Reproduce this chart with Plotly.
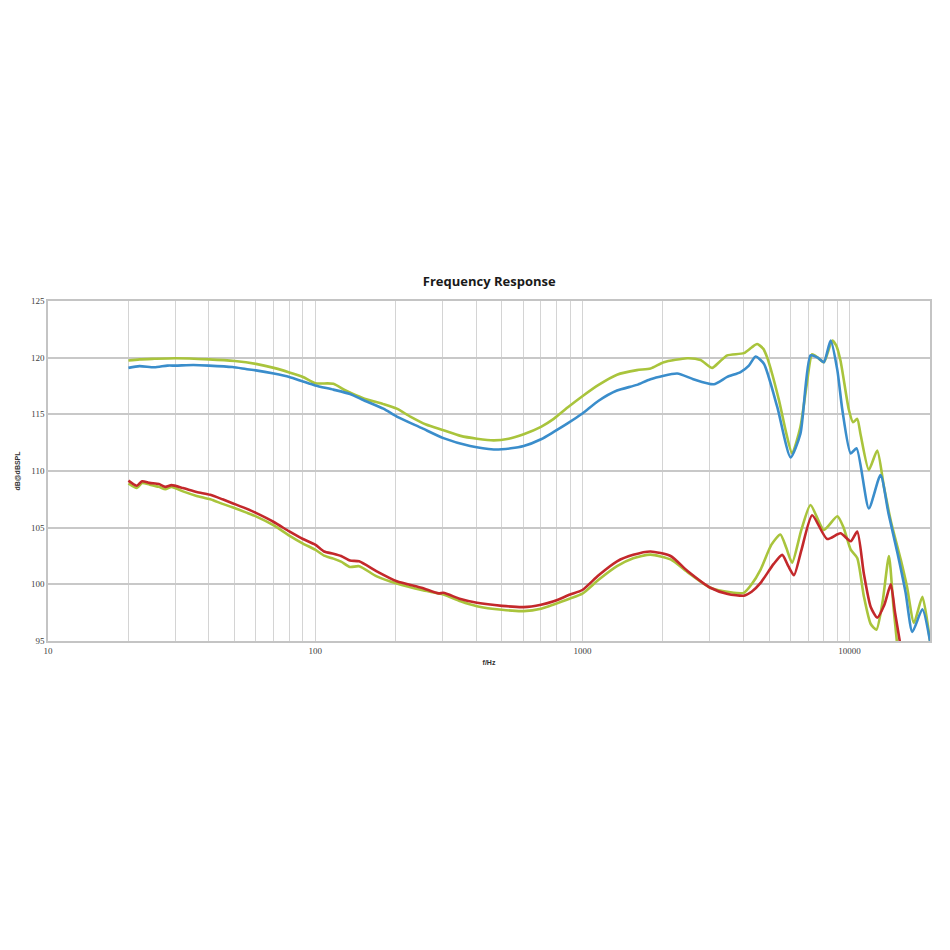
import plotly.graph_objects as go

# ---------------- data ----------------
top_green_f = [20, 22, 25, 30, 40, 50, 60, 70, 80, 90, 100, 117, 130, 152, 180, 202, 227, 260, 302, 350,
               403, 466, 530, 603, 700, 781, 880, 1000, 1150, 1348, 1600, 1800, 2018, 2468, 2767, 3061,
               3250, 3485, 4021, 4300, 4509, 4750, 4918, 5435, 5800, 6095, 6548, 6900, 7244, 7600, 8010,
               8300, 8606, 8900, 9245, 9939, 10300, 10683, 11000, 11806, 12692, 13447, 14300, 15536,
               16400, 17421, 18724, 20000]
top_green_v = [119.75, 119.85, 119.9, 119.95, 119.85, 119.7, 119.45, 119.1, 118.7, 118.3, 117.75, 117.7,
               117.1, 116.4, 115.9, 115.5, 114.8, 114.1, 113.6, 113.1, 112.85, 112.7, 112.85, 113.25,
               113.9, 114.6, 115.6, 116.6, 117.6, 118.5, 118.9, 119.05, 119.6, 119.95, 119.8, 119.1,
               119.6, 120.2, 120.4, 120.9, 121.2, 120.8, 120.0, 116.3, 113.3, 111.55, 113.9, 117.5,
               120.3, 120.0, 119.6, 120.5, 121.5, 121.1, 119.75, 115.4, 114.3, 114.6, 113.2, 110.1,
               111.8, 108.6, 105.5, 102.2, 99.8, 96.6, 98.9, 95.0]

top_blue_f = [20, 22, 25, 28, 30, 35, 40, 49, 55, 60, 70, 80, 90, 100, 117, 135, 152, 180, 202, 250, 302,
              380, 466, 540, 603, 700, 781, 880, 1000, 1150, 1348, 1600, 1798, 2264, 2600, 3103, 3485,
              3908, 4200, 4449, 4779, 5362, 6014, 6548, 7142, 7600, 8010, 8494, 9000, 9400, 10100,
              10620, 11806, 13060, 14000, 15100, 16200, 17180, 18724, 20000]
top_blue_v = [119.1, 119.25, 119.15, 119.3, 119.3, 119.35, 119.3, 119.17, 119.0, 118.88, 118.6, 118.3,
              117.9, 117.55, 117.18, 116.8, 116.24, 115.5, 114.8, 113.8, 112.9, 112.2, 111.9, 112.0,
              112.2, 112.8, 113.45, 114.2, 115.07, 116.2, 117.1, 117.6, 118.1, 118.6, 118.1, 117.65,
              118.3, 118.73, 119.3, 120.1, 119.46, 115.65, 111.2, 113.3, 120.2, 120.0, 119.6, 121.5,
              118.9, 115.36, 111.55, 112.0, 106.7, 109.65, 106.2, 102.8, 99.3, 95.8, 97.8, 95.0]

low_red_f = [20, 21.5, 22.5, 24, 26, 27.5, 29, 32, 36, 40.5, 45, 49, 55, 60, 70, 80, 90, 100, 108, 117,
             125, 135, 146, 170, 202, 250, 290, 302, 350, 403, 500, 603, 700, 781, 900, 1000, 1150, 1348,
             1550, 1798, 2138, 2468, 3013, 3500, 4021, 4300, 4645, 5200, 5598, 5900, 6194, 6600, 7244,
             8240, 9245, 10100, 10683, 11300, 12000, 12692, 13500, 14260, 14800, 15536]
low_red_v = [109.15, 108.7, 109.1, 108.95, 108.85, 108.6, 108.75, 108.5, 108.15, 107.9, 107.5, 107.16,
             106.7, 106.3, 105.5, 104.67, 104.0, 103.5, 102.9, 102.7, 102.5, 102.1, 102.03, 101.15,
             100.27, 99.7, 99.2, 99.25, 98.7, 98.37, 98.1, 97.99, 98.2, 98.5, 99.1, 99.5, 100.8, 102.03,
             102.6, 102.9, 102.5, 101.2, 99.7, 99.15, 99.0, 99.35, 100.13, 101.8, 102.6, 101.6, 100.8,
             103.0, 106.1, 104.0, 104.5, 103.8, 104.66, 101.0, 98.0, 97.06, 98.2, 100.0, 97.5, 94.5]

low_green_f = [20, 21.5, 22.5, 24, 26, 27.5, 29, 32, 36, 40.5, 45, 49, 55, 60, 70, 80, 90, 100, 108, 117,
               125, 135, 146, 170, 202, 250, 302, 350, 403, 500, 603, 700, 781, 900, 1000, 1150, 1348,
               1550, 1798, 2138, 2468, 3013, 3582, 4021, 4300, 4645, 5100, 5508, 5800, 6095, 6600, 7142,
               8010, 9000, 9500, 10100, 10683, 11300, 12000, 12600, 13300, 14040, 14600, 15100]
low_green_v = [108.9, 108.5, 108.95, 108.8, 108.6, 108.4, 108.6, 108.2, 107.8, 107.5, 107.1, 106.8,
               106.35, 106.0, 105.2, 104.3, 103.6, 103.06, 102.53, 102.27, 102.0, 101.53, 101.6, 100.7,
               100.07, 99.5, 99.1, 98.5, 98.07, 97.75, 97.64, 97.85, 98.22, 98.75, 99.17, 100.4, 101.6,
               102.3, 102.62, 102.2, 101.1, 99.7, 99.3, 99.25, 100.0, 101.3, 103.5, 104.4, 103.2, 101.9,
               104.8, 107.0, 104.8, 106.0, 105.0, 103.06, 102.33, 99.0, 96.5, 96.0, 98.5, 102.5, 98.0,
               94.5]

x_tickvals = [10, 20, 30, 40, 50, 60, 70, 80, 90,
              100, 200, 300, 400, 500, 600, 700, 800, 900,
              1000, 2000, 3000, 4000, 5000, 6000, 7000, 8000, 9000,
              10000, 20000]
x_ticktext = ["10", "", "", "", "", "", "", "", "",
              "100", "", "", "", "", "", "", "", "",
              "1000", "", "", "", "", "", "", "", "",
              "10000", ""]
y_tickvals = [95, 100, 105, 110, 115, 120, 125]

GREEN = "#a9c43c"
BLUE = "#3a8dcb"
RED = "#c3282b"

fig = go.Figure()
line_shape = dict(shape="spline", smoothing=0.6)
fig.add_trace(go.Scatter(x=top_green_f, y=top_green_v, mode="lines",
                         line=dict(color=GREEN, width=2.6, **line_shape)))
fig.add_trace(go.Scatter(x=low_green_f, y=low_green_v, mode="lines",
                         line=dict(color=GREEN, width=2.6, **line_shape)))
fig.add_trace(go.Scatter(x=top_blue_f, y=top_blue_v, mode="lines",
                         line=dict(color=BLUE, width=2.6, **line_shape)))
fig.add_trace(go.Scatter(x=low_red_f, y=low_red_v, mode="lines",
                         line=dict(color=RED, width=2.6, **line_shape)))

fig.update_layout(
    width=950, height=950,
    margin=dict(l=48, r=20, t=301, b=309),
    paper_bgcolor="white", plot_bgcolor="white",
    showlegend=False,
    title=dict(text="<b>Frequency Response</b>", x=0.515, xanchor="center",
               y=1 - 281 / 950, yanchor="middle", yref="container",
               font=dict(family="Open Sans", size=13, color="#1a1a1a")),
    font=dict(family="Liberation Serif", size=9, color="#404040"),
)
fig.update_xaxes(type="log", range=[1, 4.30103],
                 tickvals=x_tickvals, ticktext=x_ticktext,
                 showgrid=True, gridcolor="#d4d4d4", gridwidth=1.3,
                 showline=True, linecolor="#c4c4c4", linewidth=1.5, mirror=True,
                 ticks="", zeroline=False,
                 tickfont=dict(family="Liberation Serif", size=9, color="#404040"),
                 title=dict(text="<b>f/Hz</b>", standoff=6,
                            font=dict(family="Liberation Sans", size=7, color="#303030")))
fig.update_yaxes(range=[95, 125], tickvals=y_tickvals,
                 showgrid=True, gridcolor="#c8c8c8", gridwidth=1.6,
                 showline=True, linecolor="#c4c4c4", linewidth=1.5, mirror=True,
                 ticks="", zeroline=False,
                 tickfont=dict(family="Liberation Serif", size=9, color="#404040"),
                 title=dict(text="<b>dB@dBSPL</b>", standoff=10,
                            font=dict(family="Liberation Sans", size=7, color="#303030")))

fig.write_html("out.html")
